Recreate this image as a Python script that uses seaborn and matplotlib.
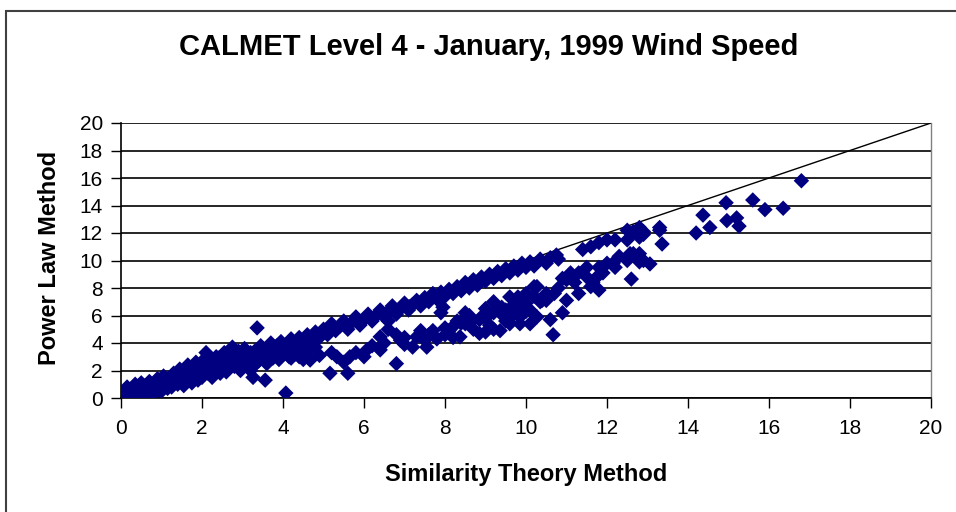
import numpy as np
import pandas as pd
import matplotlib
matplotlib.use('Agg')
import matplotlib.pyplot as plt
import seaborn as sns
from matplotlib.patches import Rectangle

# %%
# values: (Similarity Theory, Power Law) in m/s

# dense cluster near the origin
dense_pts = [
    (0.05, 0.3), (0.1, 0.5), (0.1, 0.1), (0.15, 0.8), (0.2, 0.3), (0.25, 0.0),
    (0.3, 0.6), (0.3, 0.2), (0.35, 1.0), (0.4, 0.4), (0.45, 0.1), (0.5, 0.7),
    (0.5, 1.1), (0.55, 0.3), (0.6, 0.9), (0.65, 0.5), (0.7, 1.2), (0.7, 0.2),
    (0.75, 0.7), (0.8, 1.0), (0.85, 0.4), (0.9, 1.4), (0.9, 0.8), (0.95, 0.6),
    (1.0, 1.2), (1.0, 0.5), (1.05, 1.6), (1.1, 0.9), (1.15, 0.7), (1.2, 1.4),
    (1.2, 1.1), (1.25, 0.8), (1.3, 1.8), (1.35, 1.3), (1.4, 1.0), (1.45, 2.1),
    (1.5, 1.6), (1.5, 1.2), (1.55, 0.9), (1.6, 1.9), (1.65, 2.4), (1.7, 1.4),
    (1.75, 1.1), (1.8, 2.2), (1.8, 1.7), (1.85, 2.6), (1.9, 1.3), (1.95, 2.0),
    (2.0, 1.5), (2.05, 2.8), (2.1, 3.3), (2.1, 2.3), (2.15, 1.8), (2.2, 2.6),
    (2.25, 1.5), (2.3, 2.1), (2.35, 3.0), (2.4, 2.4), (2.45, 1.8), (2.5, 2.8),
    (2.5, 2.2), (2.55, 3.3), (2.6, 1.9), (2.65, 2.6), (2.7, 3.1), (2.75, 3.7),
    (2.8, 2.3), (2.85, 2.9), (2.9, 3.4), (2.95, 2.0), (3.0, 2.7), (3.0, 3.2),
    (3.05, 3.6), (3.1, 2.4), (3.15, 3.0), (3.2, 2.0), (3.3, 3.4), (3.4, 2.7),
    (3.45, 3.8), (3.5, 3.1), (3.6, 2.5), (3.65, 3.5), (3.7, 4.0), (3.75, 2.9),
    (3.8, 3.3), (3.85, 3.8), (3.9, 2.8), (3.95, 4.1), (4.0, 3.4), (4.1, 3.9),
    (4.15, 3.0), (4.2, 4.3), (4.25, 3.6), (4.3, 3.2), (4.35, 4.1),
    (0.0, 0.4), (0.2, 0.6), (0.4, 0.7), (0.6, 0.5), (0.8, 0.6), (1.0, 0.9),
    (1.1, 1.3), (1.3, 1.1), (1.4, 1.5), (1.6, 1.3), (1.7, 1.8), (1.9, 1.7),
    (2.0, 2.3), (2.2, 2.0), (2.3, 2.5), (2.4, 2.9), (2.6, 2.3), (2.7, 2.7),
    (2.8, 3.3), (2.9, 2.6), (3.1, 2.8), (3.2, 3.3), (3.3, 2.4), (3.4, 3.1),
    (3.5, 3.6), (3.6, 2.9), (3.7, 3.3), (3.8, 3.7), (3.9, 3.2), (4.0, 3.8),
    (4.1, 3.4), (4.2, 2.9), (4.3, 3.7), (4.4, 3.4),
]

# upper branch, close to the 1:1 line
upper_pts = [
    (4.4, 4.4), (4.5, 3.9), (4.6, 4.6), (4.7, 4.2), (4.8, 4.8), (4.9, 4.4),
    (5.0, 5.0), (5.1, 4.6), (5.2, 5.4), (5.3, 4.9), (5.4, 5.2), (5.5, 5.6),
    (5.6, 5.0), (5.7, 5.5), (5.8, 5.9), (5.9, 5.3), (6.0, 5.7), (6.1, 6.1),
    (6.2, 5.6), (6.3, 6.0), (6.4, 6.4), (6.5, 5.9), (6.6, 6.3), (6.7, 6.7),
    (6.8, 6.1), (6.9, 6.5), (7.0, 6.9), (7.1, 6.4), (7.2, 6.8), (7.3, 7.1),
    (7.4, 6.7), (7.5, 7.3), (7.6, 7.0), (7.7, 7.6), (7.8, 7.2), (7.9, 7.7),
    (8.0, 7.4), (8.1, 7.9), (8.2, 7.6), (8.3, 8.1), (8.4, 7.8), (8.5, 8.4),
    (8.6, 8.0), (8.7, 8.6), (8.8, 8.2), (8.9, 8.8), (9.0, 8.5), (9.1, 9.0),
    (9.2, 8.7), (9.3, 9.2), (9.4, 8.9), (9.5, 9.4), (9.6, 9.1), (9.7, 9.6),
    (9.8, 9.3), (9.9, 9.8), (10.0, 9.5), (10.1, 9.9), (10.2, 9.6), (10.35, 10.1),
    (10.5, 9.8), (10.6, 10.2), (10.75, 10.4), (10.8, 10.1), (11.4, 10.8),
    (11.6, 11.0), (11.8, 11.3), (12.0, 11.5), (12.2, 11.5), (12.5, 11.5),
    (12.5, 12.2), (12.65, 12.1), (12.8, 12.4), (12.8, 11.7), (12.9, 12.1),
    (12.9, 11.9), (13.3, 12.2),
]

# lower branch, bending away from the line
lower_pts = [
    (4.4, 3.0), (4.5, 2.8), (4.5, 3.6), (4.6, 3.3), (4.67, 2.76), (4.8, 3.7),
    (4.9, 3.1), (5.16, 1.8), (5.2, 3.3), (5.33, 3.0), (5.5, 2.6), (5.6, 1.8),
    (5.65, 3.0), (5.8, 3.3), (6.0, 3.0), (6.07, 3.5), (6.2, 3.8), (6.4, 3.5),
    (6.4, 4.45), (6.5, 4.0), (6.6, 5.0), (6.6, 5.6), (6.8, 2.5), (6.8, 4.6),
    (6.9, 4.2), (7.0, 3.9), (7.2, 3.7), (7.3, 4.45), (7.4, 4.9), (7.55, 3.7),
    (7.6, 4.6), (7.7, 4.9), (7.8, 4.3), (7.9, 6.2), (7.95, 6.6), (8.0, 5.1),
    (8.1, 4.9), (8.2, 4.4), (8.3, 5.6), (8.37, 4.45), (8.4, 5.45), (8.5, 5.4),
    (8.6, 6.0), (8.7, 5.0), (8.85, 4.7), (8.85, 5.7), (8.9, 5.9), (9.0, 6.5),
    (9.1, 5.3), (9.2, 7.0), (9.36, 4.9), (9.36, 6.2), (9.4, 6.6), (9.5, 5.6),
    (9.6, 5.4), (9.6, 7.35), (9.7, 6.1), (9.8, 7.35), (9.85, 5.4), (9.85, 5.9),
    (9.85, 6.6), (10.0, 7.6), (10.0, 6.3), (10.1, 5.4), (10.1, 6.4), (10.2, 8.1),
    (10.27, 5.9), (10.27, 8.1), (10.35, 7.0), (10.4, 7.1), (10.5, 7.1),
    (10.6, 5.7), (10.67, 4.6), (10.7, 7.6), (10.9, 6.2), (10.9, 8.7),
    (11.0, 8.6), (11.0, 7.1), (11.1, 9.1), (11.3, 7.6), (11.3, 9.1), (11.5, 9.5),
    (11.6, 8.1), (11.65, 8.4), (11.75, 8.8), (11.8, 7.85), (11.8, 9.5),
    (12.0, 9.8), (12.15, 9.8), (12.3, 10.3), (12.5, 10.0), (12.57, 10.5),
    (12.6, 8.65), (12.65, 10.5), (12.8, 9.9), (12.8, 10.5), (12.9, 10.0),
    (13.06, 9.75), (13.3, 12.4), (13.36, 11.2), (14.2, 12.0), (14.37, 13.3),
    (14.54, 12.4), (14.94, 14.2), (14.96, 12.9), (15.2, 13.1), (15.26, 12.5),
    (15.6, 14.4), (15.9, 13.7), (16.35, 13.8), (16.8, 15.8),
    (7.0, 4.4), (7.5, 4.2), (8.0, 4.6), (8.2, 5.2), (8.6, 5.4), (9.0, 5.8),
    (9.2, 6.2), (9.5, 6.4), (9.7, 6.8), (10.0, 6.9), (10.2, 7.4), (10.5, 7.6),
    (10.8, 8.0), (11.2, 8.4), (11.5, 8.8), (11.9, 9.1), (12.2, 9.5), (8.5, 6.2),
    (9.0, 4.8), (9.2, 5.0),
]

# stray points
outlier_pts = [(3.36, 5.1), (4.07, 0.36), (3.26, 1.5), (3.56, 1.3)]

# 1:1 reference line
line_x = [0, 20]
line_y = [0, 20]

df = pd.DataFrame(dense_pts + upper_pts + lower_pts + outlier_pts,
                  columns=['similarity', 'power_law'])

# %%
sns.set_style('white')
plt.rcParams['font.family'] = ['Liberation Sans', 'DejaVu Sans']
plt.rcParams['text.color'] = 'black'
plt.rcParams['xtick.color'] = 'black'
plt.rcParams['ytick.color'] = 'black'

fig = plt.figure(figsize=(9.56, 5.12), dpi=100)
ax = fig.add_axes([121 / 956, 1 - 398 / 512, 810 / 956, 275 / 512])

sns.lineplot(x=line_x, y=line_y, ax=ax, color='black', lw=1.0, zorder=2)
sns.scatterplot(data=df, x='similarity', y='power_law', ax=ax, marker='D',
                s=62, color='#000080', edgecolor='none', linewidth=0, zorder=3)

ax.set_xlim(0, 20)
ax.set_ylim(0, 20)
ax.set_xticks(range(0, 21, 2))
ax.set_yticks(range(0, 21, 2))
ax.yaxis.grid(True, color='black', lw=1.2)
ax.set_axisbelow(True)
ax.tick_params(axis='both', direction='out', length=7, width=1, color='black',
               labelsize=15, labelcolor='black', left=True, bottom=True)
ax.tick_params(axis='x', pad=8)
ax.tick_params(axis='y', pad=6)
for side in ['left', 'bottom']:
    ax.spines[side].set_color('black')
    ax.spines[side].set_linewidth(1.2)
ax.spines['top'].set_visible(False)
ax.spines['right'].set_color('#808080')
ax.spines['right'].set_linewidth(1.0)
ax.set_xlabel('')
ax.set_ylabel('')

fig.text(0.511, 1 - 47 / 512, 'CALMET Level 4 - January, 1999 Wind Speed',
         ha='center', va='center', fontsize=21, fontweight='bold', color='black')
fig.text(526 / 956, 1 - 474 / 512, 'Similarity Theory Method',
         ha='center', va='center', fontsize=17, fontweight='bold', color='black')
fig.text(50 / 956, 1 - 258 / 512, 'Power Law Method', rotation=90,
         ha='center', va='center', fontsize=17, fontweight='bold', color='black')

# outer chart border (cropped at right and bottom)
fig.patches.append(Rectangle((6 / 956, -0.05), 1.0, 1 - 11 / 512 + 0.05,
                             transform=fig.transFigure, fill=False,
                             edgecolor='#404040', lw=1.5))

fig.savefig('out.png', dpi=100)
